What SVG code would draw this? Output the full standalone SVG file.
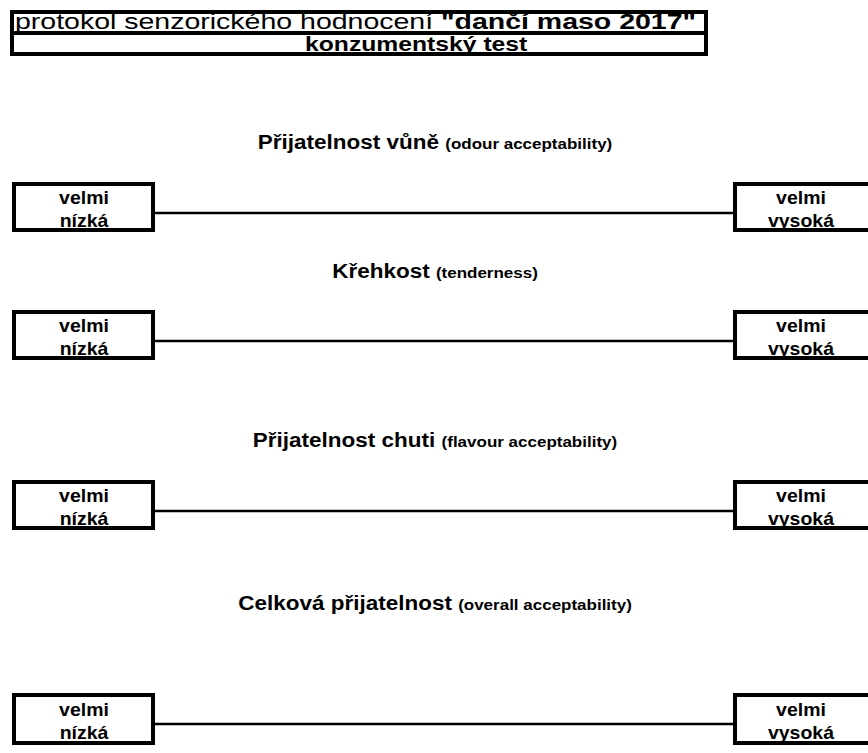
<svg xmlns="http://www.w3.org/2000/svg" width="868" height="753" viewBox="0 0 868 753">
<style>
  .frame { fill: #ffffff; stroke: #000000; stroke-width: 4; }
  .conn { stroke: #000000; stroke-width: 2.5; fill: none; }
  .t { font-family: "Liberation Sans", Arial, sans-serif; fill: #000000; }
  .hdr { font-size: 28.5px; }
  .sub { font-size: 24.7px; font-weight: bold; }
  .ttl { font-size: 22.5px; font-weight: bold; text-anchor: middle; }
  .par { font-size: 17px; font-weight: bold; }
  .lbl { font-size: 19.5px; font-weight: bold; text-anchor: middle; }
</style>
<rect x="0" y="0" width="868" height="753" fill="#ffffff"/>

<g id="header">
  <rect class="frame" x="12" y="12" width="694" height="42"/>
  <line x1="10" y1="33" x2="708" y2="33" stroke="#000" stroke-width="4"/>
  <text class="t hdr" transform="translate(15 28.5) scale(1 0.8)">protokol senzorického hodnocení <tspan font-weight="bold">"dančí maso 2017"</tspan></text>
  <text class="t sub" transform="translate(305 50.5) scale(1 0.8)">konzumentský test</text>
</g>

<g id="title-odour">
  <text class="t ttl" transform="translate(435 149) scale(1 0.88)">Přijatelnost vůně <tspan class="par">(odour acceptability)</tspan></text>
</g>
<g id="title-tenderness">
  <text class="t ttl" transform="translate(435 278) scale(1 0.88)">Křehkost <tspan class="par">(tenderness)</tspan></text>
</g>
<g id="title-flavour">
  <text class="t ttl" transform="translate(435 447) scale(1 0.88)">Přijatelnost chuti <tspan class="par">(flavour acceptability)</tspan></text>
</g>
<g id="title-overall">
  <text class="t ttl" transform="translate(435 610) scale(1 0.88)">Celková přijatelnost <tspan class="par">(overall acceptability)</tspan></text>
</g>

<g id="connectors">
  <line class="conn" x1="155" y1="213" x2="733" y2="213"/>
  <line class="conn" x1="155" y1="341" x2="733" y2="341"/>
  <line class="conn" x1="155" y1="511" x2="733" y2="511"/>
  <line class="conn" x1="155" y1="724" x2="733" y2="724"/>
</g>

<g id="low-1">
  <rect class="frame" x="14" y="184" width="139" height="46"/>
  <text class="t lbl" transform="translate(84 204) scale(1 0.9)">velmi</text>
  <text class="t lbl" transform="translate(84 227) scale(1 0.9)">nízká</text>
</g>
<g id="high-1">
  <rect class="frame" x="735" y="184" width="139" height="46"/>
  <text class="t lbl" transform="translate(801 204) scale(1 0.9)">velmi</text>
  <text class="t lbl" transform="translate(801 227) scale(1 0.9)">vysoká</text>
</g>

<g id="low-2">
  <rect class="frame" x="14" y="312" width="139" height="46"/>
  <text class="t lbl" transform="translate(84 332) scale(1 0.9)">velmi</text>
  <text class="t lbl" transform="translate(84 355) scale(1 0.9)">nízká</text>
</g>
<g id="high-2">
  <rect class="frame" x="735" y="312" width="139" height="46"/>
  <text class="t lbl" transform="translate(801 332) scale(1 0.9)">velmi</text>
  <text class="t lbl" transform="translate(801 355) scale(1 0.9)">vysoká</text>
</g>

<g id="low-3">
  <rect class="frame" x="14" y="482" width="139" height="46"/>
  <text class="t lbl" transform="translate(84 502) scale(1 0.9)">velmi</text>
  <text class="t lbl" transform="translate(84 525) scale(1 0.9)">nízká</text>
</g>
<g id="high-3">
  <rect class="frame" x="735" y="482" width="139" height="46"/>
  <text class="t lbl" transform="translate(801 502) scale(1 0.9)">velmi</text>
  <text class="t lbl" transform="translate(801 525) scale(1 0.9)">vysoká</text>
</g>

<g id="low-4">
  <rect class="frame" x="14" y="695" width="139" height="48"/>
  <text class="t lbl" transform="translate(84 716) scale(1 0.9)">velmi</text>
  <text class="t lbl" transform="translate(84 739) scale(1 0.9)">nízká</text>
</g>
<g id="high-4">
  <rect class="frame" x="735" y="695" width="139" height="48"/>
  <text class="t lbl" transform="translate(801 716) scale(1 0.9)">velmi</text>
  <text class="t lbl" transform="translate(801 739) scale(1 0.9)">vysoká</text>
</g>
</svg>
